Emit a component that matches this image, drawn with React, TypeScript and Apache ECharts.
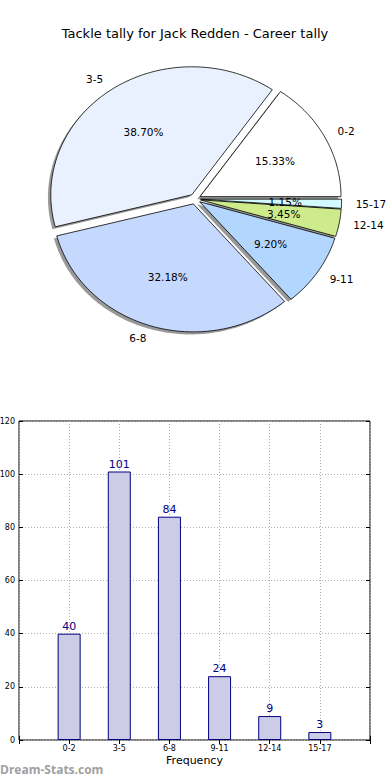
import React, { useEffect, useRef } from 'react';
import * as echarts from 'echarts';

const titleText = 'Tackle tally for Jack Redden - Career tally';
const categories = ['0-2', '3-5', '6-8', '9-11', '12-14', '15-17'];
const counts = [40, 101, 84, 24, 9, 3];
const sliceColors = ['#FFFFFF', '#EAF1FE', '#C5D8FE', '#B3D6FE', '#CEEB8B', '#D2F9FE'];
const explode = [0.04, 0.04, 0.04, 0.04, 0.04, 0.04];
const yMin = 0;
const yMax = 120;
const yStep = 20;
const xAxisName = 'Frequency';
const watermark = 'Dream-Stats.com';

const FONT = 'DejaVu Sans';
const PIE_CX = 195;
const PIE_CY = 199;
const RX = 141;
const RY = 128;

export default function App() {
  const ref = useRef<HTMLDivElement>(null);
  useEffect(() => {
    if (!ref.current) return;
    const chart = echarts.init(ref.current, undefined, { renderer: 'svg' });
    const total = counts.reduce((a, b) => a + b, 0);
    const cum: number[] = [];
    let acc = 0;
    counts.forEach((c) => { cum.push(acc); acc += c; });

    const wedgePoints = (cx: number, cy: number, a0: number, a1: number) => {
      const pts: number[][] = [[cx, cy]];
      const n = Math.max(2, Math.ceil((a1 - a0) / (Math.PI / 180)));
      for (let k = 0; k <= n; k++) {
        const a = a0 + ((a1 - a0) * k) / n;
        pts.push([cx + RX * Math.cos(a), cy - RY * Math.sin(a)]);
      }
      return pts;
    };

    const padded = ['', ...categories, ''];
    const barData: any[] = ['-', ...counts, '-'];

    chart.setOption({
      animation: false,
      backgroundColor: '#fff',
      title: {
        text: titleText,
        left: 'center',
        top: 22,
        textStyle: { fontSize: 13, fontWeight: 'normal', fontFamily: FONT, color: '#000' },
      },
      grid: {
        left: 19, right: 20, top: 421, bottom: 40,
        outerBoundsMode: 'none', containLabel: false,
        show: true, borderColor: '#000', borderWidth: 1, backgroundColor: 'transparent',
      },
      xAxis: [
        {
          type: 'category', data: padded, boundaryGap: false, position: 'bottom',
          name: xAxisName, nameLocation: 'middle', nameGap: 15,
          nameTextStyle: { fontSize: 11, fontFamily: FONT, color: '#000' },
          axisLine: { show: false },
          axisTick: { show: true, inside: true, length: 4, lineStyle: { color: '#000' } },
          axisLabel: { fontSize: 8, fontFamily: FONT, color: '#000', margin: 4, interval: 0 },
          splitLine: { show: true, lineStyle: { color: '#b0b0b0', type: [1, 2], width: 1 } },
        },
        {
          type: 'category', data: padded, boundaryGap: false, position: 'top',
          axisLine: { show: false },
          axisTick: { show: true, inside: true, length: 4, lineStyle: { color: '#000' } },
          axisLabel: { show: false },
          splitLine: { show: false },
        },
      ],
      yAxis: [
        {
          type: 'value', min: yMin, max: yMax, interval: yStep, position: 'left',
          axisLine: { show: false },
          axisTick: { show: true, inside: true, length: 4, lineStyle: { color: '#000' } },
          axisLabel: { fontSize: 8, fontFamily: FONT, color: '#000', margin: 4 },
          splitLine: { show: true, lineStyle: { color: '#b0b0b0', type: [1, 2], width: 1 } },
        },
        {
          type: 'value', min: yMin, max: yMax, interval: yStep, position: 'right',
          axisLine: { show: false },
          axisTick: { show: true, inside: true, length: 4, lineStyle: { color: '#000' } },
          axisLabel: { show: false },
          splitLine: { show: false },
        },
      ],
      graphic: [
        {
          type: 'text', left: 0, top: 763,
          style: { text: watermark, fontSize: 12, fontWeight: 'bold', fontFamily: 'Open Sans', fill: '#a0a0a0' },
        },
      ],
      series: [
        {
          type: 'bar', xAxisIndex: 0, yAxisIndex: 0, data: barData, barWidth: 23,
          itemStyle: { color: '#CCCCE6', borderColor: '#000080', borderWidth: 1 },
          label: { show: true, position: 'top', distance: 2, color: '#000080', fontSize: 11, fontFamily: FONT },
          silent: true,
        },
        {
          type: 'custom',
          coordinateSystem: 'none',
          data: counts,
          silent: true,
          renderItem: (params: any, api: any) => {
            const i = params.dataIndex;
            const v = api.value(0) as number;
            const a0 = (cum[i] / total) * Math.PI * 2;
            const a1 = ((cum[i] + v) / total) * Math.PI * 2;
            const mid = (a0 + a1) / 2;
            const e = explode[i];
            const cx = PIE_CX + e * RX * Math.cos(mid);
            const cy = PIE_CY - e * RY * Math.sin(mid);
            const pts = wedgePoints(cx, cy, a0, a1);
            const shadowPts = pts.map((p) => [p[0] - 0.02 * RX, p[1] + 0.02 * RY]);
            const pctX = cx + 0.6 * RX * Math.cos(mid);
            const pctY = cy - 0.6 * RY * Math.sin(mid);
            const labX = cx + 1.1 * RX * Math.cos(mid);
            const labY = cy - 1.1 * RY * Math.sin(mid);
            const pct = ((v / total) * 100).toFixed(2) + '%';
            return {
              type: 'group',
              children: [
                {
                  type: 'polygon', z2: 1,
                  shape: { points: shadowPts },
                  style: { fill: 'rgba(70,70,70,0.55)', stroke: 'none' },
                },
                {
                  type: 'polygon', z2: 10,
                  shape: { points: pts },
                  style: { fill: sliceColors[i], stroke: '#000', lineWidth: 0.8 },
                },
                {
                  type: 'text', z2: 20, x: pctX, y: pctY,
                  style: { text: pct, fontSize: 10.5, fontFamily: FONT, fill: '#000', align: 'center', verticalAlign: 'middle' },
                },
                {
                  type: 'text', z2: 20, x: labX, y: labY,
                  style: {
                    text: categories[i], fontSize: 10.5, fontFamily: FONT, fill: '#000',
                    align: labX > PIE_CX ? 'left' : 'right', verticalAlign: 'middle',
                  },
                },
              ],
            };
          },
        },
      ],
    });
    return () => chart.dispose();
  }, []);
  return <div ref={ref} style={{ position: 'fixed', left: 0, top: 0, width: 390, height: 780 }} />;
}
